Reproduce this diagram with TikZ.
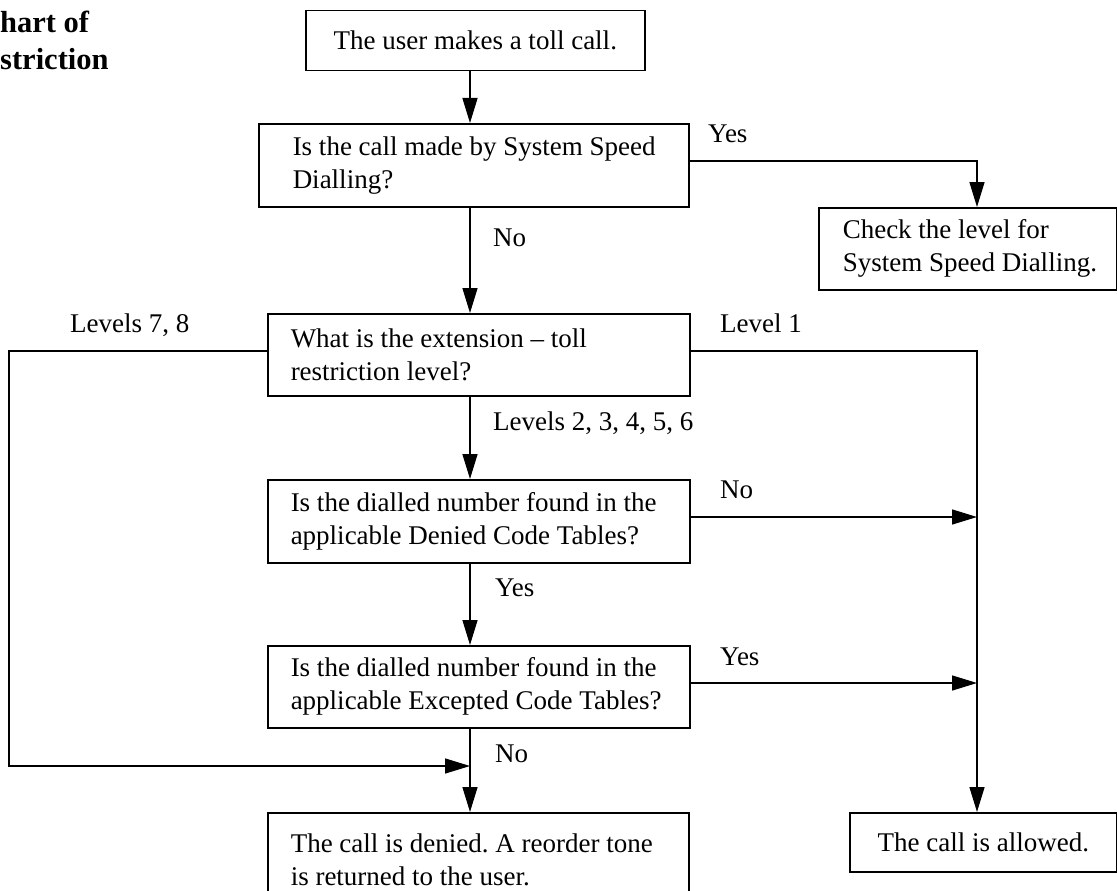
\documentclass[tikz,border=0pt]{standalone}
\usepackage{fontspec}
\setmainfont{Liberation Serif}
\usetikzlibrary{arrows.meta}
\frenchspacing
\newcommand\boxline[2]{\hbox to #1{#2\hss}}
\tikzset{
  fbox/.style={draw, line width=1.5pt, anchor=north west, inner ysep=0pt, align=left},
  cbox/.style={draw, line width=1.5pt, anchor=north west, inner sep=0pt, align=center},
  lab/.style={anchor=base west, inner sep=0pt},
  ttl/.style={anchor=base west, inner sep=0pt, font=\bfseries\fontsize{30.5}{36}\selectfont},
  conn/.style={line width=1.5pt, -{Triangle[length=25pt,width=15pt]}},
}
\begin{document}
\begin{tikzpicture}[x=1pt,y=-1pt,font=\fontsize{27}{33}\selectfont]
\useasboundingbox (0,0) rectangle (1117,891);
% title
\node[ttl] (t1) at (0,33) {hart of};
\node[ttl] (t2) at (0,70) {striction};
% boxes
\node[cbox, minimum width=339pt, minimum height=60pt] (b1) at (305,10) {The user makes a toll call.};
\node[fbox, inner xsep=34pt, minimum height=83pt] (b2) at (258,123)
  {\vbox{\boxline{362pt}{Is the call made by System Speed}\boxline{362pt}{Dialling?}}};
\node[fbox, inner xsep=24pt, minimum height=82pt] (b3) at (818,207)
  {\vbox{\boxline{250pt}{Check the level for}\boxline{250pt}{System Speed Dialling.}}};
\node[fbox, inner xsep=23pt, minimum height=82pt] (b4) at (267,313)
  {\vbox{\boxline{376pt}{What is the extension – toll}\boxline{376pt}{restriction level?}}};
\node[fbox, inner xsep=23pt, minimum height=83pt] (b5) at (267,479)
  {\vbox{\boxline{376pt}{Is the dialled number found in the}\boxline{376pt}{applicable Denied Code Tables?}}};
\node[fbox, inner xsep=23pt, minimum height=82pt] (b6) at (267,645)
  {\vbox{\boxline{376pt}{Is the dialled number found in the}\boxline{376pt}{applicable Excepted Code Tables?}}};
\node[fbox, inner xsep=23pt, minimum height=94pt] (b7) at (267,812)
  {\vbox{\boxline{375pt}{The call is denied. A reorder tone}\boxline{375pt}{is returned to the user.}}};
\node[cbox, minimum width=267pt, minimum height=59pt] (b8) at (849,812) {The call is allowed.};
% helper coordinates
\coordinate (ax) at (470,0);
\coordinate (rx) at (977,0);
\coordinate (lx) at (9,0);
\coordinate (y2) at (0,161);
\coordinate (y4) at (0,351);
\coordinate (y5) at (0,517);
\coordinate (y6) at (0,683);
\coordinate (ym) at (470,766);
\coordinate (jn) at (977,517);
\coordinate (jy) at (977,683);
% connectors
\draw[conn] (b1.south -| ax) -- (b2.north -| ax);
\draw[conn] (b2.east |- y2) -| (b3.north -| rx);
\draw[conn] (b2.south -| ax) -- (b4.north -| ax);
\draw[conn] (b4.west |- y4) -| (lx |- ym) -- (ym);
\draw[conn] (b4.east |- y4) -| (b8.north -| rx);
\draw[conn] (b4.south -| ax) -- (b5.north -| ax);
\draw[conn] (b5.east |- y5) -- (jn);
\draw[conn] (b5.south -| ax) -- (b6.north -| ax);
\draw[conn] (b6.east |- y6) -- (jy);
\draw[conn] (b6.south -| ax) -- (b7.north -| ax);
% labels
\node[lab] (l1) at (708,142) {Yes};
\node[lab] (l2) at (493,246) {No};
\node[lab] (l3) at (70,332) {Levels 7, 8};
\node[lab] (l4) at (720,332) {Level 1};
\node[lab] (l5) at (493,430) {Levels 2, 3, 4, 5, 6};
\node[lab] (l6) at (720,498) {No};
\node[lab] (l7) at (495,596) {Yes};
\node[lab] (l8) at (720,665) {Yes};
\node[lab] (l9) at (495,762) {No};
\end{tikzpicture}
\end{document}
